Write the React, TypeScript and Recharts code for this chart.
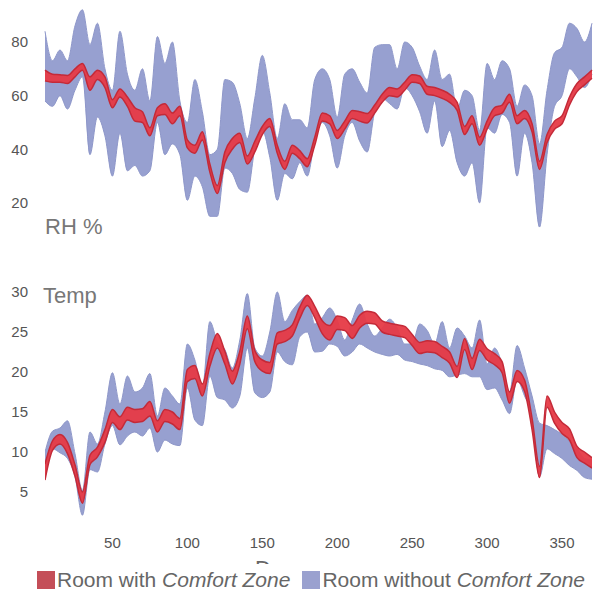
import { Area, ComposedChart, XAxis, YAxis } from "recharts";

// day of year for each sample
const DAYS = [
  5, 10, 15, 20, 25, 30, 35, 40, 45, 50, 55, 60, 65, 70, 75, 80, 85, 90, 95, 100,
  105, 110, 115, 120, 125, 130, 135, 140, 145, 150, 155, 160, 165, 170, 175, 180,
  185, 190, 195, 200, 205, 210, 215, 220, 225, 230, 235, 240, 245, 250, 255, 260,
  265, 270, 275, 280, 285, 290, 295, 300, 305, 310, 315, 320, 325, 330, 335, 340,
  345, 350, 355, 360, 365, 370,
];

const X_TICKS = [50, 100, 150, 200, 250, 300, 350];
const RH_TICKS = [20, 40, 60, 80];
const TEMP_TICKS = [5, 10, 15, 20, 25, 30];

// RH %, room without Comfort Zone (band)
const RH_BLUE_LO = [
  58, 56, 60, 55, 62, 67, 38, 52, 45, 30, 46, 32, 34, 30, 32, 50, 38, 42, 38, 21,
  30, 26, 15, 15, 33, 31, 25, 24, 40, 47, 37, 21, 31, 29, 35, 30,
  43, 50, 45, 33, 45, 50, 43, 39, 54, 59, 57, 55, 63, 60, 54, 46,
  58, 41, 47, 35, 30, 35, 20, 48, 46, 53, 50, 30, 46, 35, 11, 38,
  56, 60, 70, 67, 63, 68,
];
const RH_BLUE_HI = [
  84, 73, 77, 73, 86, 92, 79, 87, 70, 62, 84, 68, 62, 70, 58, 82, 72, 80, 58, 50,
  66, 54, 38, 40, 66, 65, 57, 44, 59, 75, 61, 44, 57, 51, 51, 48,
  66, 70, 66, 52, 68, 70, 65, 61, 78, 79, 79, 70, 80, 78, 71, 66,
  77, 66, 68, 55, 62, 60, 47, 72, 66, 73, 70, 56, 64, 60, 42, 62,
  76, 78, 87, 85, 80, 87,
];

// RH %, room with Comfort Zone (band)
const RH_RED_LO = [
  65.5, 65, 65, 64.5, 67, 69.5, 62, 66, 63, 55.5, 59.5, 56, 50.5, 50, 45, 52.5, 53, 49.5, 52.5, 40.5,
  38.5, 43.5, 31.5, 23.5, 35, 40, 42.5, 34.5, 39, 45.5, 48.5, 38.5, 32.5, 38.5, 36.5, 33.5,
  41.5, 50.5, 49.5, 44, 47.5, 51.5, 50.5, 49.8, 53.5, 57.5, 60, 59.5, 62, 65, 64.5, 60.5,
  60, 59, 57.5, 54.5, 45.5, 49.5, 41.5, 47.5, 52.5, 53.5, 57.5, 49.5, 51.5, 46.5, 32.5, 42.5,
  47.5, 49.5, 56.5, 61.5, 64, 66.5,
];
const RH_RED_HI = [
  69.5, 68, 67.8, 67.5, 70, 72, 67, 69.5, 67, 58.5, 62.5, 59.5, 55.5, 54, 48, 55.5, 57, 53.5, 56, 43.5,
  41.5, 46.5, 34.5, 26.5, 39, 44, 46, 37.5, 43, 48.5, 51.5, 41.5, 35.5, 41.5, 39.5, 36.5,
  44.5, 53.5, 52.5, 47, 50.5, 54.5, 54, 53.3, 56.5, 60.5, 63, 62.5, 65, 67.8, 67.3, 63.5,
  63, 62, 60.5, 57.5, 48.5, 52.5, 44.5, 50.5, 55.5, 56.5, 60.5, 52.5, 54.5, 49.5, 35.5, 45.5,
  50.5, 52.5, 59.5, 64.5, 67, 69.5,
];

// Temperature, room without Comfort Zone (band)
const T_BLUE_LO = [
  6.7, 10.4, 9.9, 9.2, 6.9, 2.1, 7.8, 7.5, 11, 13.3, 10.9, 12, 12.5, 12, 13, 10, 11.5, 11, 10.8, 18,
  14, 13.3, 19.5, 16.8, 16.5, 15.5, 17, 23, 17.4, 16.8, 17.5, 22.5, 21.3, 20.9, 24.4, 25,
  22.5, 22.6, 23.5, 23.2, 22, 22.5, 23.5, 23, 22.5, 22.2, 22, 22.2, 21.5, 21.3, 21, 20.8,
  20.4, 20.2, 19.4, 19.6, 19.8, 19.4, 19.4, 17.8, 18, 16.5, 14.8, 19, 17, 14.5, 6.9, 10.4,
  9.8, 9.2, 8.3, 7.7, 6.8, 6.6,
];
const T_BLUE_HI = [
  10, 12.6, 13, 13.9, 9.8, 5.2, 12.5, 11, 15, 19.9, 16, 19.5, 17.5, 18, 19.8, 14.5, 18, 17, 16, 23.5,
  21.5, 18, 26.3, 23.8, 22.8, 20.5, 24, 29.8, 23, 22, 25, 30, 26.3, 27.7, 28.8, 29.6,
  26, 26.8, 28, 26.5, 24, 26.5, 28.5, 26, 24.5, 25.5, 26.6, 25.5, 23.5, 23.5, 26, 25.2,
  23.5, 26.3, 23, 25.5, 24.5, 23, 26.5, 21, 23, 21, 17.5, 23.3, 20.5, 17, 13.6, 13.3,
  12.8, 12.2, 11.3, 10.4, 9.2, 9,
];

// Temperature, room with Comfort Zone (band)
const T_RED_LO = [
  6.5, 10.2, 11, 9.8, 7, 3.6, 8.4, 9.4, 11.2, 13.7, 12.8, 14, 13.7, 13.8, 14.5, 12.5, 13.8, 13.5, 12.8, 18.8,
  19.2, 17, 20.7, 23, 21, 18.5, 21, 25.4, 21.3, 20.1, 19.8, 23.5, 23.8, 24.5, 26.7, 28.3,
  26.8, 24.8, 24, 25.3, 25.2, 24.2, 25.5, 26.1, 26, 25, 24.7, 24.5, 24.3, 23.3, 22.3, 22.5,
  22.4, 21.8, 21.1, 19.3, 22.8, 20.3, 22.7, 21.5, 20.9, 19.9, 16.1, 18.8, 17.6, 12.8, 6.8, 15.6,
  13.6, 12.3, 11.5, 9.3, 8.6, 8,
];
const T_RED_HI = [
  8.5, 11.4, 12.2, 11.2, 8.4, 5, 9.6, 10.6, 12.8, 15.3, 14.4, 15.6, 15.3, 15.4, 16.3, 13.9, 15.3, 15, 14.2, 20.3,
  20.8, 18.5, 22.3, 24.8, 22.6, 20.1, 22.6, 27, 22.7, 21.5, 21.2, 24.9, 25.2, 25.9, 28.1, 29.6,
  28.2, 26.4, 25.8, 27, 26.8, 25.8, 27.1, 27.6, 27.4, 26.4, 26.1, 25.9, 25.7, 24.7, 23.7, 23.9,
  23.8, 23.2, 22.5, 20.7, 24.2, 21.7, 24.1, 22.9, 22.3, 21.3, 17.5, 20.2, 19, 14.2, 8.2, 17,
  15, 13.7, 12.9, 10.7, 10, 9.3,
];

const FONT = '"Liberation Sans", Arial, Helvetica, sans-serif';
const BLUE_FILL = "#97a0d0";
const BLUE_STROKE = "#8e97c9";
const RED_FILL = "#e63a46";
const RED_STROKE = "#c42a38";

const rhRows = DAYS.map((day, i) => ({
  day,
  blue: [RH_BLUE_LO[i], RH_BLUE_HI[i]],
  red: [RH_RED_LO[i], RH_RED_HI[i]],
}));

const tempRows = DAYS.map((day, i) => ({
  day,
  blue: [T_BLUE_LO[i], T_BLUE_HI[i]],
  red: [T_RED_LO[i], T_RED_HI[i]],
}));

const tickStyle = { fontSize: 15, fill: "#555", fontFamily: FONT };

function Bands() {
  return (
    <>
      <Area
        type="monotone"
        dataKey="blue"
        fill={BLUE_FILL}
        fillOpacity={1}
        stroke={BLUE_STROKE}
        strokeWidth={1}
        dot={false}
        activeDot={false}
        isAnimationActive={false}
      />
      <Area
        type="monotone"
        dataKey="red"
        fill={RED_FILL}
        fillOpacity={0.95}
        stroke={RED_STROKE}
        strokeWidth={1.5}
        dot={false}
        activeDot={false}
        isAnimationActive={false}
      />
    </>
  );
}

export default function App() {
  return (
    <div
      style={{
        position: "absolute",
        left: 0,
        top: 0,
        width: 597,
        height: 595,
        background: "#fff",
        fontFamily: FONT,
        overflow: "hidden",
      }}
    >
      <div style={{ position: "absolute", left: 0, top: 0 }}>
        <ComposedChart
          width={597}
          height={240}
          data={rhRows}
          margin={{ top: 1.75, right: 5, bottom: 10.25, left: 0 }}
        >
          <XAxis type="number" dataKey="day" domain={[5, 370]} hide />
          <YAxis
            type="number"
            domain={[10, 95]}
            ticks={RH_TICKS}
            width={45}
            axisLine={false}
            tickLine={false}
            tickMargin={11}
            tick={tickStyle}
            allowDataOverflow
          />
          {Bands()}
        </ComposedChart>
      </div>

      <div style={{ position: "absolute", left: 0, top: 280 }}>
        <ComposedChart
          width={597}
          height={280}
          data={tempRows}
          margin={{ top: 4, right: 5, bottom: 6, left: 0 }}
        >
          <XAxis
            type="number"
            dataKey="day"
            domain={[5, 370]}
            ticks={X_TICKS}
            height={30}
            axisLine={false}
            tickLine={false}
            tickMargin={7}
            tick={tickStyle}
            allowDataOverflow
          />
          <YAxis
            type="number"
            domain={[1, 31]}
            ticks={TEMP_TICKS}
            width={45}
            axisLine={false}
            tickLine={false}
            tickMargin={11}
            tick={tickStyle}
            allowDataOverflow
          />
          {Bands()}
        </ComposedChart>
      </div>

      <svg
        width={597}
        height={595}
        style={{ position: "absolute", left: 0, top: 0, pointerEvents: "none" }}
      >
        <text x={45} y={234} fontSize={22} fill="#777" fontFamily={FONT}>
          RH %
        </text>
        <text x={43} y={303} fontSize={22} fill="#777" fontFamily={FONT}>
          Temp
        </text>
        <text x={280} y={576} fontSize={22} fill="#666" textAnchor="middle" fontFamily={FONT}>
          Days
        </text>
      </svg>

      <div
        style={{
          position: "absolute",
          left: 0,
          top: 564,
          width: 597,
          height: 31,
          background: "#fff",
        }}
      >
        <div
          style={{
            position: "absolute",
            left: 37,
            top: 6,
            display: "flex",
            alignItems: "center",
            fontSize: 21,
            color: "#666",
            whiteSpace: "nowrap",
            lineHeight: "20px",
          }}
        >
          <span style={{ width: 18, height: 18, background: "#c44e58", display: "inline-block" }} />
          <span style={{ marginLeft: 2 }}>
            Room with <i>Comfort Zone</i>
          </span>
          <span
            style={{
              width: 18,
              height: 18,
              background: "#9aa1cf",
              display: "inline-block",
              marginLeft: 12,
            }}
          />
          <span style={{ marginLeft: 2 }}>
            Room without <i>Comfort Zone</i>
          </span>
        </div>
      </div>
    </div>
  );
}
